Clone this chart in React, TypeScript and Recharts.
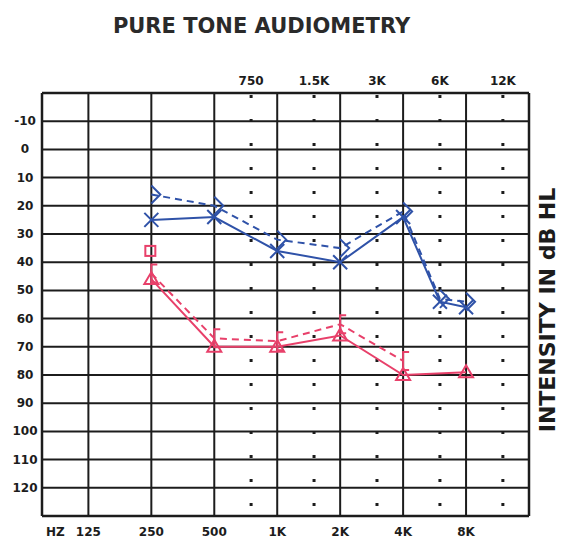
import React from "react";
import {
  ComposedChart, Line, Scatter, XAxis, YAxis, ReferenceLine,
} from "recharts";

// frequencies (Hz) and thresholds (dB HL)
const MAIN_FREQS = [125, 250, 500, 1000, 2000, 4000, 8000];
const MAIN_LABELS = ["125", "250", "500", "1K", "2K", "4K", "8K"];
const HALF_FREQS = [750, 1500, 3000, 6000, 12000];
const HALF_LABELS = ["750", "1.5K", "3K", "6K", "12K"];
const DB_TICKS = [-10, 0, 10, 20, 30, 40, 50, 60, 70, 80, 90, 100, 110, 120];

const LEFT_AIR_FREQ = [250, 500, 1000, 2000, 4000, 6000, 8000];
const LEFT_AIR_DB = [25, 24, 36, 40, 24, 54, 56];
const LEFT_BONE_FREQ = [250, 500, 1000, 2000, 4000, 6000, 8000];
const LEFT_BONE_DB = [16, 20, 32, 35, 22, 53, 54];

const RIGHT_AIR_FREQ = [250, 500, 1000, 2000, 4000, 8000];
const RIGHT_AIR_DB = [46, 70, 70, 66, 80, 79];
const RIGHT_BONE_FREQ = [250, 500, 1000, 2000, 4000];
const RIGHT_BONE_DB = [44, 67, 68, 62, 75];

const RIGHT_SQUARE_FREQ = [250];
const RIGHT_SQUARE_DB = [36];

const BLUE = "#2f52a8";
const RED = "#e8406a";
const INK = "#1c1c1c";
const FONT = "'DejaVu Sans', Arial, sans-serif";

const pts = (fs: number[], vs: number[]) => fs.map((f, i) => ({ f, db: vs[i] }));

const leftAir = pts(LEFT_AIR_FREQ, LEFT_AIR_DB);
const leftBone = pts(LEFT_BONE_FREQ, LEFT_BONE_DB);
const rightAir = pts(RIGHT_AIR_FREQ, RIGHT_AIR_DB);
const rightBone = pts(RIGHT_BONE_FREQ, RIGHT_BONE_DB);
const rightSquare = pts(RIGHT_SQUARE_FREQ, RIGHT_SQUARE_DB);

const XMark = (p: any) => {
  const { cx, cy } = p;
  if (cx == null) return <g />;
  const s = 7;
  return (
    <g stroke={BLUE} strokeWidth={2}>
      <line x1={cx - s} y1={cy - s} x2={cx + s} y2={cy + s} />
      <line x1={cx - s} y1={cy + s} x2={cx + s} y2={cy - s} />
    </g>
  );
};

const GtMark = (p: any) => {
  const { cx, cy } = p;
  if (cx == null) return <g />;
  return (
    <polyline
      points={`${cx},${cy - 9} ${cx + 9},${cy} ${cx},${cy + 9}`}
      fill="none" stroke={BLUE} strokeWidth={2}
    />
  );
};

const TriMark = (p: any) => {
  const { cx, cy } = p;
  if (cx == null) return <g />;
  return (
    <polygon
      points={`${cx},${cy - 7} ${cx + 7},${cy + 5} ${cx - 7},${cy + 5}`}
      fill="none" stroke={RED} strokeWidth={2}
    />
  );
};

const BracketMark = (p: any) => {
  const { cx, cy } = p;
  if (cx == null) return <g />;
  return (
    <polyline
      points={`${cx + 6},${cy - 9} ${cx},${cy - 9} ${cx},${cy + 9} ${cx + 6},${cy + 9}`}
      fill="none" stroke={RED} strokeWidth={2}
    />
  );
};

const SquareMark = (p: any) => {
  const { cx, cy } = p;
  if (cx == null) return <g />;
  return <rect x={cx - 6} y={cy - 5} width={10} height={10} fill="none" stroke={RED} strokeWidth={2} />;
};

const BottomTick = (p: any) => {
  const { x, y, payload } = p;
  const i = MAIN_FREQS.indexOf(payload.value);
  return (
    <g fontFamily={FONT} fontWeight="bold" fontSize={12} fill={INK}>
      <text x={x} y={y} dy={12} textAnchor="middle" fill={INK}>{MAIN_LABELS[i]}</text>
      {payload.value === 125 && (
        <text x={x - 33} y={y} dy={12} textAnchor="middle" fill={INK}>HZ</text>
      )}
    </g>
  );
};

const LeftTick = (p: any) => {
  const { y, payload } = p;
  return (
    <text x={25} y={y} dy={4} textAnchor="middle" fontFamily={FONT} fontWeight="bold" fontSize={12} fill={INK}>
      {payload.value}
    </text>
  );
};

export default function App() {
  return (
    <div style={{ position: "absolute", left: 0, top: 0, width: 561, height: 538, background: "#fff", overflow: "hidden" }}>
      <div
        style={{
          position: "absolute", left: 0, width: 523, top: 13, textAlign: "center",
          fontFamily: FONT, fontWeight: "bold", fontSize: 21, color: "#2a2a2a", lineHeight: "26px",
        }}
      >
        PURE TONE AUDIOMETRY
      </div>
      <div
        style={{
          position: "absolute", left: 548, top: 310, transform: "translate(-50%, -50%) rotate(-90deg)",
          whiteSpace: "nowrap", fontFamily: FONT, fontWeight: "bold", fontSize: 22, lineHeight: "22px",
          color: "#1c1c1c",
        }}
      >
        INTENSITY IN dB HL
      </div>
      <ComposedChart width={561} height={538} margin={{ top: 93, right: 32, bottom: 2, left: 8 }}>
        <XAxis
          dataKey="f" type="number" scale="log" domain={[75, 16000]} allowDataOverflow
          ticks={MAIN_FREQS} tick={<BottomTick />} axisLine={false} tickLine={false} height={20}
        />
        <YAxis
          dataKey="db" type="number" domain={[-20, 130]} reversed allowDataOverflow
          ticks={DB_TICKS} tick={<LeftTick />} axisLine={false} tickLine={false} width={34}
        />

        {HALF_FREQS.map((f, i) => (
          <ReferenceLine
            key={"h" + f} x={f} stroke={INK} strokeWidth={3} strokeDasharray="3 21" strokeDashoffset={-10}
            label={{
              value: HALF_LABELS[i], position: "top", offset: 8,
              fill: INK, fontSize: 12, fontWeight: "bold", fontFamily: FONT,
            }}
          />
        ))}
        {DB_TICKS.map((v) => (
          <ReferenceLine key={"y" + v} y={v} stroke={INK} strokeWidth={2} />
        ))}
        {MAIN_FREQS.map((f) => (
          <ReferenceLine key={"x" + f} x={f} stroke={INK} strokeWidth={2} />
        ))}
        <ReferenceLine x={75} stroke={INK} strokeWidth={2.5} />
        <ReferenceLine x={16000} stroke={INK} strokeWidth={2.5} />
        <ReferenceLine y={-20} stroke={INK} strokeWidth={2.5} />
        <ReferenceLine y={130} stroke={INK} strokeWidth={2.5} />

        <Line data={leftBone} dataKey="db" stroke={BLUE} strokeWidth={2} strokeDasharray="7 5"
          dot={<GtMark />} activeDot={false} isAnimationActive={false} />
        <Line data={leftAir} dataKey="db" stroke={BLUE} strokeWidth={2}
          dot={<XMark />} activeDot={false} isAnimationActive={false} />
        <Line data={rightBone} dataKey="db" stroke={RED} strokeWidth={2} strokeDasharray="7 5"
          dot={<BracketMark />} activeDot={false} isAnimationActive={false} />
        <Line data={rightAir} dataKey="db" stroke={RED} strokeWidth={2}
          dot={<TriMark />} activeDot={false} isAnimationActive={false} />
        <Scatter data={rightSquare} dataKey="db" shape={<SquareMark />} isAnimationActive={false} />
      </ComposedChart>
    </div>
  );
}
